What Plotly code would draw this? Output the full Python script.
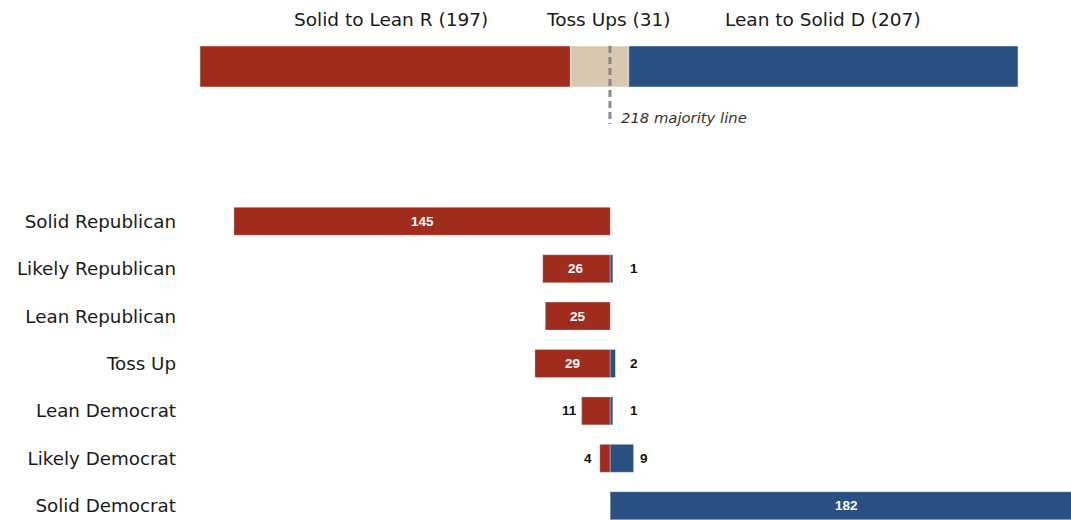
import plotly.graph_objects as go

# ---- data ----
top_groups = ["Solid to Lean R", "Toss Ups", "Lean to Solid D"]
top_values = [197, 31, 207]
majority = 218

categories = ["Solid Republican", "Likely Republican", "Lean Republican", "Toss Up",
              "Lean Democrat", "Likely Democrat", "Solid Democrat"]
rep_values = [145, 26, 25, 29, 11, 4, 0]
dem_values = [0, 1, 0, 2, 1, 9, 182]

# ---- style ----
RED = "#A02C1E"
BLUE = "#2A5082"
TAN = "#D8C8B2"
top_colors = [RED, TAN, BLUE]
W, H = 1071, 520
FONT = "DejaVu Sans"
INSIDE_MIN = 20      # values at least this large get their label inside the bar
OUT_MIN = 5          # outside labels sit at least this far from the centre line

fig = go.Figure()

# top stacked bar
for name, val, col in zip(top_groups, top_values, top_colors):
    fig.add_trace(go.Bar(
        x=[val], y=[0], orientation="h", width=1,
        marker=dict(color=col, line=dict(color="rgba(255,255,255,0.45)", width=1)),
        xaxis="x", yaxis="y", name=name, hoverinfo="skip",
    ))

# bottom diverging bars
fig.add_trace(go.Bar(
    y=categories, x=[-v if v else None for v in rep_values], orientation="h", width=0.59,
    marker=dict(color=RED, line=dict(color="rgba(255,255,255,0.35)", width=0.8)),
    xaxis="x2", yaxis="y2", cliponaxis=False, hoverinfo="skip",
))
fig.add_trace(go.Bar(
    y=categories, x=[v if v else None for v in dem_values], orientation="h", width=0.59,
    marker=dict(color=BLUE, line=dict(color="rgba(255,255,255,0.35)", width=0.8)),
    xaxis="x2", yaxis="y2", cliponaxis=False, hoverinfo="skip",
))

# pixel mapping helpers
top_left_px, top_right_px = 200, 1018
top_total = sum(top_values)
s1 = (top_right_px - top_left_px) / top_total
x1_range = [-top_left_px / s1, (W - top_left_px) / s1]

zero_px = 610.2
s2 = 2.595
dom2_left_px = 186
x2_range = [(dom2_left_px - zero_px) / s2, (W - zero_px) / s2]

row0_px, row_step = 221.3, 47.4
dom2_top_px = 197
y2_range = [(H - row0_px) / row_step, (dom2_top_px - row0_px) / row_step]

def py(px):
    return 1 - px / H

axis_off = dict(showgrid=False, zeroline=False, showticklabels=False, ticks="",
                showline=False, fixedrange=True)

fig.update_layout(
    width=W, height=H, margin=dict(l=0, r=0, t=0, b=0),
    paper_bgcolor="white", plot_bgcolor="white",
    barmode="relative", showlegend=False,
    font=dict(family=FONT, color="#1a1a1a"),
    xaxis=dict(domain=[0, 1], range=x1_range, anchor="y", **axis_off),
    yaxis=dict(domain=[py(87), py(46)], range=[-0.5, 0.5], anchor="x", **axis_off),
    xaxis2=dict(domain=[dom2_left_px / W, 1], range=x2_range, anchor="y2", **axis_off),
    yaxis2=dict(domain=[0, py(dom2_top_px)], range=y2_range, anchor="x2",
                type="category", categoryorder="array", categoryarray=categories,
                showgrid=False, zeroline=False, showline=False, ticks="",
                tickfont=dict(size=18.3, color="#1a1a1a", family=FONT),
                ticklabelstandoff=9, fixedrange=True),
)

# bar value labels
label_in = dict(color="white", size=13.5, family="Liberation Sans", weight="bold")
label_out = dict(color="#111111", size=13.5, family="Liberation Sans", weight="bold")
for cat, rv, dv in zip(categories, rep_values, dem_values):
    if rv:
        if rv >= INSIDE_MIN:
            fig.add_annotation(x=-rv / 2, y=cat, xref="x2", yref="y2", showarrow=False,
                               xanchor="center", yanchor="middle", text=str(rv), font=label_in)
        else:
            fig.add_annotation(x=-max(rv, OUT_MIN), y=cat, xref="x2", yref="y2", showarrow=False,
                               xanchor="right", yanchor="middle", xshift=-3, text=str(rv),
                               font=label_out)
    if dv:
        if dv >= INSIDE_MIN:
            fig.add_annotation(x=dv / 2, y=cat, xref="x2", yref="y2", showarrow=False,
                               xanchor="center", yanchor="middle", text=str(dv), font=label_in)
        else:
            fig.add_annotation(x=max(dv, OUT_MIN), y=cat, xref="x2", yref="y2", showarrow=False,
                               xanchor="left", yanchor="middle", xshift=4.5, text=str(dv),
                               font=label_out)

# majority line
fig.add_shape(type="line", xref="x", yref="paper", x0=majority, x1=majority,
              y0=py(46), y1=py(124), line=dict(color="rgba(125,125,125,0.9)", width=3, dash="7px,4px"),
              layer="above")
fig.add_annotation(x=majority, xref="x", y=py(118), yref="paper", xanchor="left", yanchor="middle",
                   xshift=9, showarrow=False, text=f"{majority} majority line",
                   font=dict(size=14.8, color="#333333", family=FONT, style="italic"))

# top labels
shifts = [6, 8, 0]
cum = 0
for name, val, sh in zip(top_groups, top_values, shifts):
    fig.add_annotation(x=cum + val / 2, xref="x", y=py(20), yref="paper",
                       xanchor="center", yanchor="middle", showarrow=False, xshift=sh,
                       text=f"{name} ({val})", font=dict(size=18.5, color="#1a1a1a", family=FONT))
    cum += val

fig.write_html("out.html", config={"displayModeBar": False},
               post_script="document.body.style.margin='0';document.body.style.overflow='hidden';")
